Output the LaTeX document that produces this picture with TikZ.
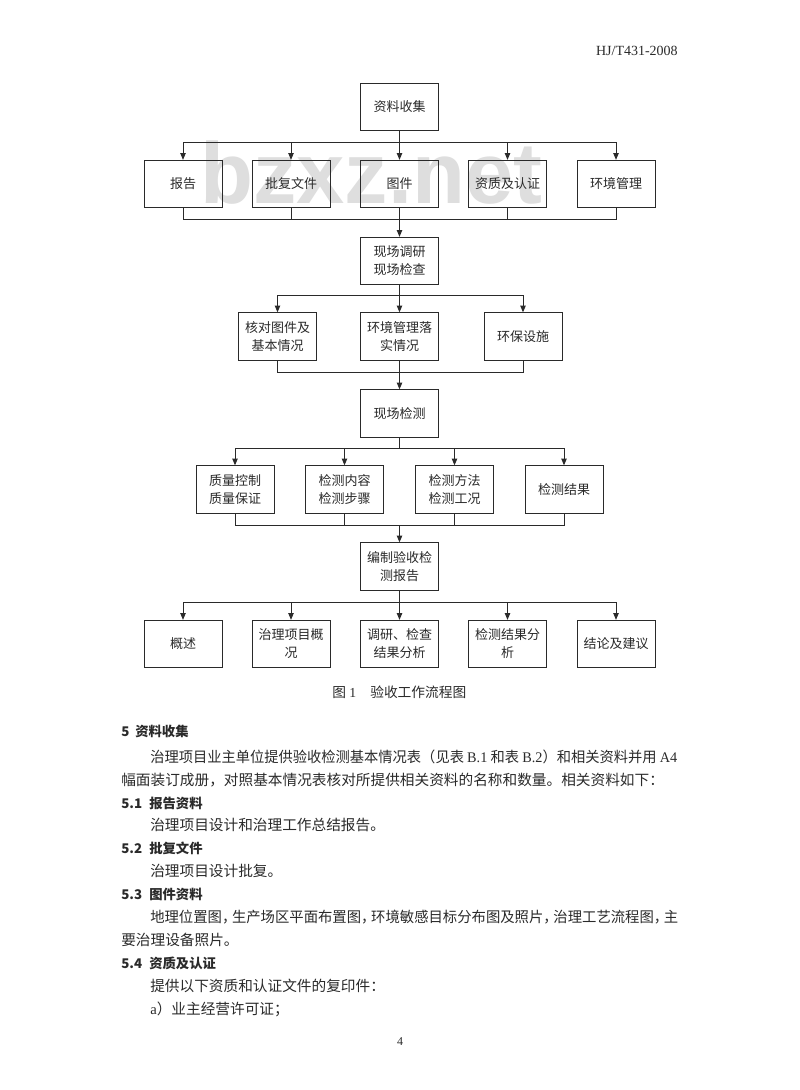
\documentclass[tikz,border=0pt]{standalone}
\usepackage{graphicx}
\usepackage{fontspec}
\setmainfont{Liberation Serif}
\newfontfamily\cjk{Noto Sans CJK SC}
\newfontfamily\wmfont{Liberation Sans}
\usetikzlibrary{arrows.meta}
\definecolor{ink}{HTML}{2A2A2A}
\definecolor{wm}{HTML}{DEDEDE}
\newcommand\zhcomma{，\kern-0.3em}
\tikzset{
  box/.style={draw=ink, line width=0.75pt, minimum width=58.5pt, minimum height=35.5pt,
    inner sep=0pt, align=center, text=ink, font=\cjk\fontsize{9.75}{13.5}\selectfont},
  link/.style={draw=ink, line width=0.75pt},
  arr/.style={link, -{Triangle[length=5pt,width=4pt]}},
  txt/.style={inner sep=0pt, anchor=base west, text=ink},
  body/.style={txt, font=\cjk\fontsize{11}{13}\selectfont},
  head/.style={txt, font=\cjk\bfseries\fontsize{10}{12}\selectfont},
}
\begin{document}
\begin{tikzpicture}[x=0.75pt,y=-0.75pt]
\fill[white] (0,0) rectangle (800,1090);
\useasboundingbox (0,0) rectangle (800,1090);

% header
\node[txt, anchor=base east, font=\fontsize{10.5}{12}\selectfont] (hdr) at (678,55.5) {HJ/T431-2008};

% watermark
\node[inner sep=0pt, anchor=base west, text=wm, font=\wmfont\bfseries\fontsize{65}{70}\selectfont] (wmk) at (200,203) {bzxz.net};

% flow chart
\node[box] (a) at (399.5,107) {资料收集};
\node[box] (r1a) at (183,184) {报告};
\node[box] (r1b) at (291,184) {批复文件};
\node[box] (r1c) at (399.5,184) {图件};
\node[box] (r1d) at (507.5,184) {资质及认证};
\node[box] (r1e) at (616,184) {环境管理};

\node[box] (b) at (399.5,261) {现场调研\\现场检查};
\node[box] (r2a) at (277.5,336.5) {核对图件及\\基本情况};
\node[box] (r2b) at (399.5,336.5) {环境管理落\\实情况};
\node[box] (r2c) at (523,336.5) {环保设施};

\node[box] (c) at (399.5,413.5) {现场检测};
\node[box] (r3a) at (235,489.5) {质量控制\\质量保证};
\node[box] (r3b) at (344.5,489.5) {检测内容\\检测步骤};
\node[box] (r3c) at (454.5,489.5) {检测方法\\检测工况};
\node[box] (r3d) at (564,489.5) {检测结果};

\node[box] (d) at (399.5,566.5) {编制验收检\\测报告};
\node[box] (r4a) at (183,644) {概述};
\node[box] (r4b) at (291,644) {治理项目概\\况};
\node[box] (r4c) at (399.5,644) {调研、检查\\结果分析};
\node[box] (r4d) at (507.5,644) {检测结果分\\析};
\node[box] (r4e) at (616,644) {结论及建议};

\coordinate (f1) at (399.5,142);
\coordinate (m1) at (399.5,219);
\coordinate (f2) at (399.5,295);
\coordinate (m2) at (399.5,372);
\coordinate (f3) at (399.5,448);
\coordinate (m3) at (399.5,525);
\coordinate (f4) at (399.5,602);

\draw[link] (a.south) -- (f1);
\foreach \n in {r1a,r1b,r1c,r1d,r1e} {\draw[arr] (f1) -| (\n.north);}
\foreach \n in {r1a,r1b,r1c,r1d,r1e} {\draw[link] (\n.south) |- (m1);}
\draw[arr] (m1) -- (b.north);

\draw[link] (b.south) -- (f2);
\foreach \n in {r2a,r2b,r2c} {\draw[arr] (f2) -| (\n.north);}
\foreach \n in {r2a,r2b,r2c} {\draw[link] (\n.south) |- (m2);}
\draw[arr] (m2) -- (c.north);

\draw[link] (c.south) -- (f3);
\foreach \n in {r3a,r3b,r3c,r3d} {\draw[arr] (f3) -| (\n.north);}
\foreach \n in {r3a,r3b,r3c,r3d} {\draw[link] (\n.south) |- (m3);}
\draw[arr] (m3) -- (d.north);

\draw[link] (d.south) -- (f4);
\foreach \n in {r4a,r4b,r4c,r4d,r4e} {\draw[arr] (f4) -| (\n.north);}

% caption
\node[txt, font=\fontsize{10.3}{12}\selectfont] (cap1) at (332,697.5) {{\cjk 图}\kern2.5pt 1};
\node[txt, font=\cjk\fontsize{10.3}{12}\selectfont] (cap2) at (370,697.5) {验收工作流程图};

% text
\node[head] (h5n) at (121,736) {5};
\node[head] (h5t) at (135,736) {资料收集};
\node[body] (p1) at (150,762.5) {\resizebox{395.25pt}{\height}{治理项目业主单位提供验收检测基本情况表（见表 {\rmfamily B.1} 和表 {\rmfamily B.2}）和相关资料并用 {\rmfamily A4}}};
\node[body] (p2) at (121,785.5) {幅面装订成册，对照基本情况表核对所提供相关资料的名称和数量。相关资料如下：};
\node[head] (h51n) at (121,808) {5.1};
\node[head] (h51t) at (149,808) {报告资料};
\node[body] (p3) at (150,830.5) {治理项目设计和治理工作总结报告。};
\node[head] (h52n) at (121,853.5) {5.2};
\node[head] (h52t) at (149,853.5) {批复文件};
\node[body] (p4) at (150,876.5) {治理项目设计批复。};
\node[head] (h53n) at (121,899.5) {5.3};
\node[head] (h53t) at (149,899.5) {图件资料};
\node[body] (p5) at (150,922.5) {\resizebox{396pt}{\height}{地理位置图\zhcomma 生产场区平面布置图\zhcomma 环境敏感目标分布图及照片\zhcomma 治理工艺流程图\zhcomma 主}};
\node[body] (p6) at (121,945.5) {要治理设备照片。};
\node[head] (h54n) at (121,968.5) {5.4};
\node[head] (h54t) at (149,968.5) {资质及认证};
\node[body] (p7) at (150,991.5) {提供以下资质和认证文件的复印件：};
\node[body] (p8) at (150,1014.5) {{\rmfamily a}）业主经营许可证；};

% page number
\node[txt, anchor=base, font=\fontsize{9}{10}\selectfont] (pg) at (400,1045) {4};
\end{tikzpicture}
\end{document}
